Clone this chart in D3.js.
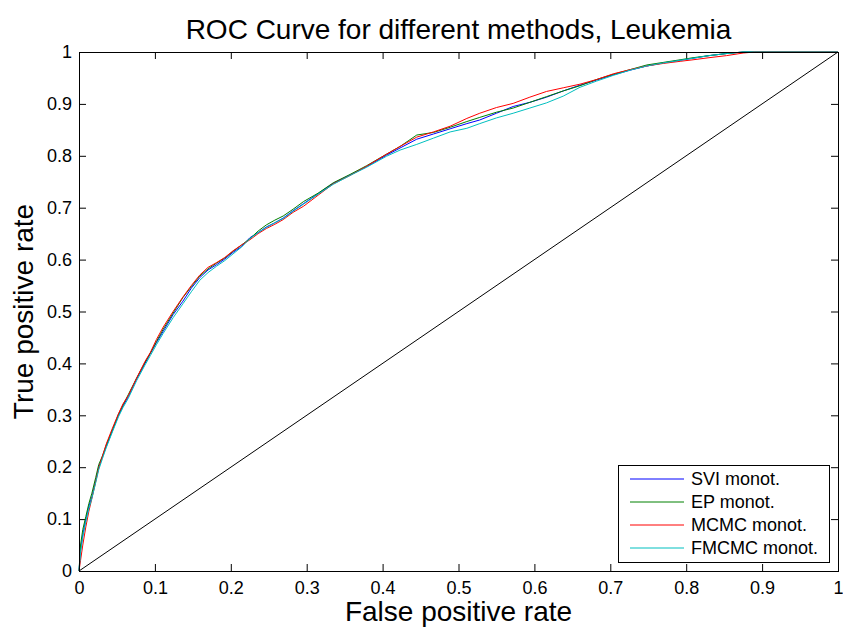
<!DOCTYPE html>
<html>
<head>
<meta charset="utf-8">
<script src="https://cdn.jsdelivr.net/npm/d3@7"></script>
<style>
  body { margin: 0; background: #fff; }
  svg { display: block; font-family: "Liberation Sans", Arial, Helvetica, sans-serif; }
</style>
</head>
<body>
<svg id="chart" width="843" height="627"></svg>
<script>
// ROC curves

const fpr = [0, 0.002, 0.005, 0.009, 0.013, 0.017, 0.022, 0.026, 0.031, 0.036,
  0.044, 0.052, 0.058, 0.065, 0.076, 0.087, 0.094, 0.102, 0.111, 0.124,
  0.137, 0.148, 0.159, 0.170, 0.181, 0.192, 0.203, 0.214, 0.225, 0.236,
  0.247, 0.258, 0.269, 0.282, 0.296, 0.315, 0.335, 0.357, 0.379, 0.405,
  0.423, 0.445, 0.467, 0.489, 0.511, 0.528, 0.550, 0.572, 0.594, 0.616,
  0.638, 0.660, 0.682, 0.704, 0.726, 0.748, 0.770, 0.792, 0.809, 0.830,
  0.853, 0.875, 0.890, 1];

const tprSVI = [0, 0.04, 0.07, 0.10, 0.125, 0.143, 0.175, 0.20, 0.22, 0.24,
  0.27, 0.30, 0.318, 0.336, 0.37, 0.40, 0.419, 0.44, 0.462, 0.494,
  0.520, 0.545, 0.565, 0.580, 0.590, 0.601, 0.614, 0.625, 0.642, 0.652,
  0.663, 0.671, 0.680, 0.694, 0.708, 0.727, 0.747, 0.763, 0.779, 0.801,
  0.815, 0.832, 0.842, 0.852, 0.862, 0.869, 0.882, 0.895, 0.903, 0.913,
  0.925, 0.936, 0.946, 0.956, 0.965, 0.973, 0.979, 0.984, 0.988, 0.993,
  0.997, 1, 1, 1];

const tprEP = [0, 0.05, 0.08, 0.105, 0.13, 0.15, 0.18, 0.205, 0.222, 0.243,
  0.272, 0.302, 0.32, 0.34, 0.372, 0.402, 0.42, 0.442, 0.466, 0.497,
  0.527, 0.548, 0.568, 0.582, 0.593, 0.603, 0.616, 0.628, 0.640, 0.655,
  0.667, 0.676, 0.684, 0.697, 0.712, 0.728, 0.748, 0.764, 0.781, 0.803,
  0.818, 0.840, 0.845, 0.855, 0.866, 0.874, 0.884, 0.892, 0.903, 0.914,
  0.925, 0.935, 0.947, 0.957, 0.966, 0.975, 0.980, 0.985, 0.989, 0.993,
  0.997, 1, 1, 1];

const tprMCMC = [0, 0.02, 0.05, 0.085, 0.115, 0.14, 0.172, 0.198, 0.222, 0.245,
  0.275, 0.303, 0.322, 0.338, 0.372, 0.404, 0.421, 0.446, 0.47, 0.50,
  0.528, 0.55, 0.57, 0.585, 0.594, 0.604, 0.617, 0.628, 0.638, 0.650,
  0.660, 0.668, 0.677, 0.691, 0.703, 0.724, 0.746, 0.762, 0.780, 0.803,
  0.818, 0.836, 0.846, 0.857, 0.872, 0.882, 0.893, 0.901, 0.913, 0.924,
  0.931, 0.938, 0.947, 0.958, 0.966, 0.973, 0.978, 0.982, 0.985, 0.989,
  0.993, 0.998, 1, 1];

const tprFMCMC = [0, 0.035, 0.065, 0.095, 0.12, 0.14, 0.17, 0.195, 0.217, 0.238,
  0.268, 0.297, 0.315, 0.333, 0.367, 0.397, 0.415, 0.436, 0.458, 0.488,
  0.515, 0.538, 0.56, 0.575, 0.587, 0.598, 0.611, 0.624, 0.640, 0.652,
  0.662, 0.671, 0.679, 0.693, 0.707, 0.726, 0.745, 0.762, 0.778, 0.799,
  0.811, 0.822, 0.834, 0.846, 0.853, 0.862, 0.873, 0.882, 0.892, 0.902,
  0.915, 0.932, 0.944, 0.955, 0.965, 0.973, 0.979, 0.984, 0.988, 0.993,
  0.997, 1, 1, 1];

const seriesNames = ["SVI monot.", "EP monot.", "MCMC monot.", "FMCMC monot."];
const seriesColors = ["#0000ff", "#008000", "#ff0000", "#00bfbf"];
const seriesValues = [tprSVI, tprEP, tprMCMC, tprFMCMC];
const tickValues = [0, 0.1, 0.2, 0.3, 0.4, 0.5, 0.6, 0.7, 0.8, 0.9, 1];

const titleText = "ROC Curve for different methods, Leukemia";
const xLabel = "False positive rate";
const yLabel = "True positive rate";

const W = 843, H = 627;
const margin = { top: 52, right: 5, bottom: 56, left: 79 };
const innerW = W - margin.left - margin.right;
const innerH = H - margin.top - margin.bottom;

const svg = d3.select("#chart");
const g = svg.append("g").attr("transform", `translate(${margin.left},${margin.top})`);

const x = d3.scaleLinear().domain([0, 1]).range([0, innerW]);
const y = d3.scaleLinear().domain([0, 1]).range([innerH, 0]);

const fmt = d => String(+d.toFixed(1));

// axes with inward ticks on all four sides
function styleAxis(sel) {
    sel.select(".domain").remove();
    sel.selectAll(".tick line").attr("stroke", "#000").attr("stroke-width", 1);
    sel.selectAll(".tick text").attr("fill", "#000").attr("font-size", "18px");
}

g.append("g")
    .attr("transform", `translate(0,${innerH})`)
    .call(d3.axisBottom(x).tickValues(tickValues).tickFormat(fmt).tickSize(-7).tickPadding(10))
    .call(styleAxis)
    .attr("font-family", null);

g.append("g")
    .call(d3.axisLeft(y).tickValues(tickValues).tickFormat(fmt).tickSize(-7).tickPadding(7))
    .call(styleAxis)
    .attr("font-family", null);

g.append("g")
    .call(d3.axisTop(x).tickValues(tickValues).tickFormat("").tickSize(-7))
    .call(styleAxis);

g.append("g")
    .attr("transform", `translate(${innerW},0)`)
    .call(d3.axisRight(y).tickValues(tickValues).tickFormat("").tickSize(-7))
    .call(styleAxis);

// diagonal reference
g.append("line")
    .attr("x1", x(0)).attr("y1", y(0))
    .attr("x2", x(1)).attr("y2", y(1))
    .attr("stroke", "#000").attr("stroke-width", 1);

// ROC curves
const line = d3.line()
    .x((d, i) => x(fpr[i]))
    .y(d => y(d));

seriesValues.forEach((vals, k) => {
    g.append("path")
        .datum(vals)
        .attr("fill", "none")
        .attr("stroke", seriesColors[k])
        .attr("stroke-width", 1)
        .attr("d", line);
});

// box
g.append("rect")
    .attr("x", 0.5).attr("y", 0.5)
    .attr("width", innerW).attr("height", innerH)
    .attr("fill", "none").attr("stroke", "#000").attr("stroke-width", 1);

// legend
const legend = svg.append("g").attr("transform", "translate(618,465)");
legend.append("rect")
    .attr("x", 0.5).attr("y", 0.5)
    .attr("width", 211).attr("height", 97)
    .attr("fill", "#fff").attr("stroke", "#000").attr("stroke-width", 1);

seriesNames.forEach((name, k) => {
    const yy = 14 + k * 23;
    legend.append("line")
        .attr("x1", 12).attr("x2", 66)
        .attr("y1", yy).attr("y2", yy)
        .attr("stroke", seriesColors[k]).attr("stroke-width", 1);
    legend.append("text")
        .attr("x", 73).attr("y", yy)
        .attr("dy", "0.35em")
        .attr("font-size", "18px")
        .text(name);
});

// title and axis labels
svg.append("text")
    .attr("x", margin.left + innerW / 2).attr("y", 39)
    .attr("text-anchor", "middle")
    .attr("font-size", "28px")
    .text(titleText);

svg.append("text")
    .attr("x", margin.left + innerW / 2).attr("y", 621)
    .attr("text-anchor", "middle")
    .attr("font-size", "28px")
    .text(xLabel);

svg.append("text")
    .attr("transform", `translate(33,${margin.top + innerH / 2}) rotate(-90)`)
    .attr("text-anchor", "middle")
    .attr("font-size", "28px")
    .text(yLabel);
</script>
</body>
</html>
